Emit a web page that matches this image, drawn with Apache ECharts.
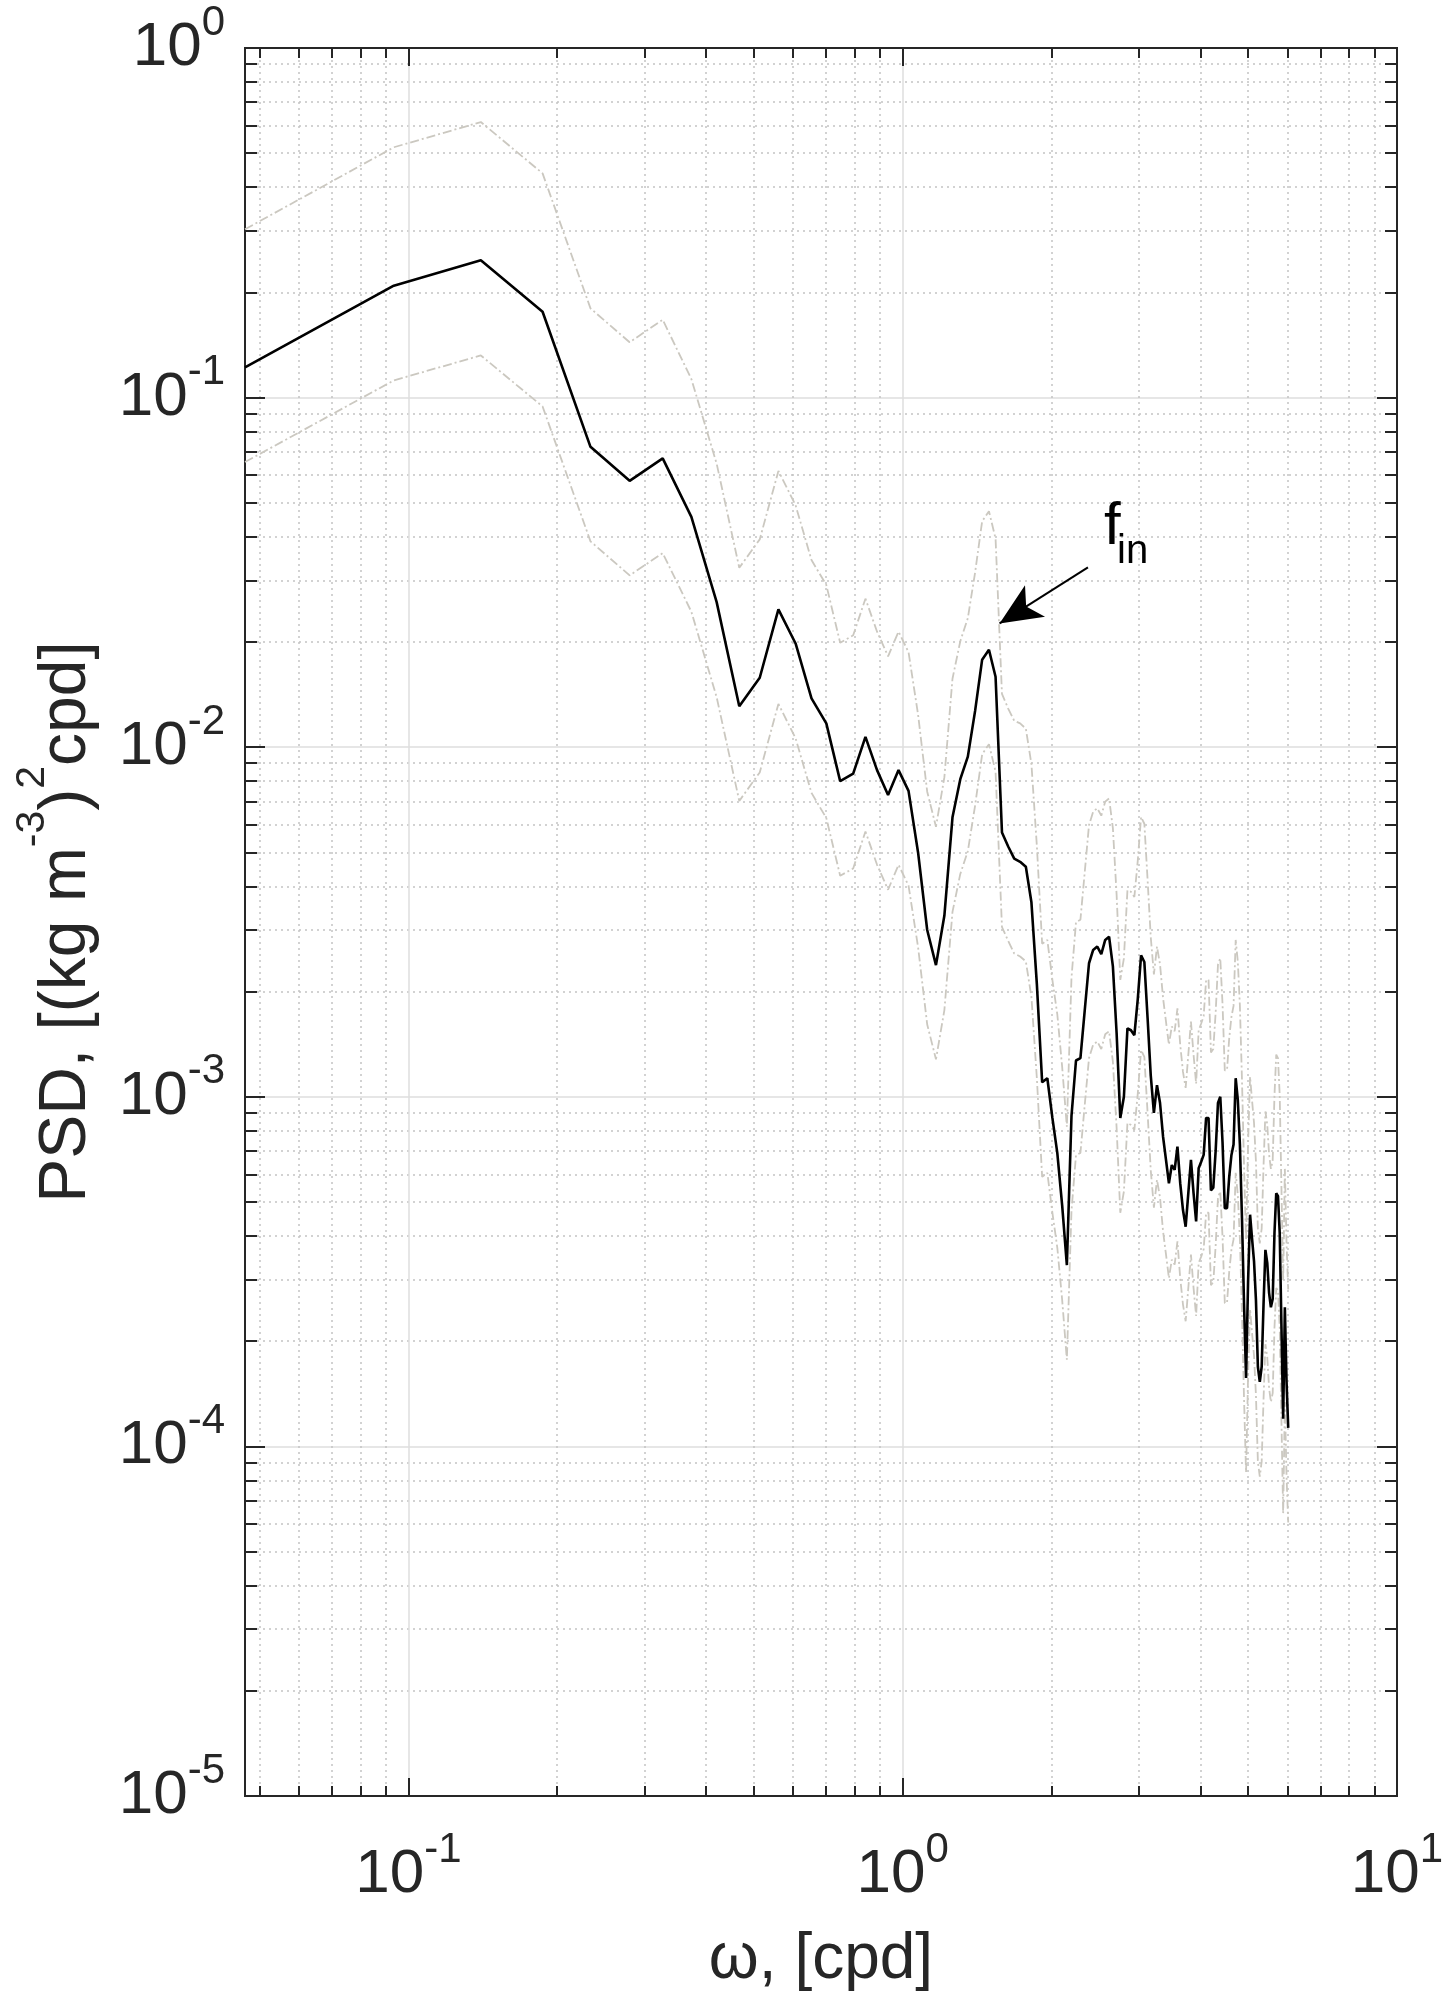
<!DOCTYPE html>
<html>
<head>
<meta charset="utf-8">
<script src="https://cdn.jsdelivr.net/npm/echarts@6/dist/echarts.min.js"></script>
<style>
  html, body { margin: 0; padding: 0; background: #fff; }
  #chart { width: 1456px; height: 2013px; }
</style>
</head>
<body>
<div id="chart"></div>
<script>
// frequency resolution of the spectrum (cpd); bin k sits at k * df
const df = 0.0467;

// PSD estimate, one value per frequency bin
const psd = [
  0.122, 0.209, 0.247, 0.176, 0.0723, 0.0578, 0.067, 0.0456, 0.026, 0.0131,
  0.0158, 0.0248, 0.0198, 0.0138, 0.0117, 0.008, 0.0084, 0.0107, 0.0086, 0.0073,
  0.0086, 0.0075, 0.005, 0.003, 0.00238, 0.0033, 0.0063, 0.0081, 0.0094, 0.0127,
  0.0178, 0.019, 0.0159, 0.0057, 0.0052, 0.0048, 0.0047, 0.00455, 0.0036, 0.0021,
  0.0011, 0.00113, 0.00087, 0.00069, 0.00049, 0.00033, 0.00088, 0.00127, 0.00129, 0.00177,
  0.00241, 0.00263, 0.00269, 0.00256, 0.00281, 0.00287, 0.00236, 0.00152, 0.00087, 0.001,
  0.00157, 0.00155, 0.0015, 0.0019, 0.00254, 0.00243, 0.00168, 0.00115, 0.0009, 0.00108,
  0.00096, 0.00077, 0.00066, 0.000566, 0.000638, 0.000618, 0.00072, 0.000566, 0.000475, 0.000425,
  0.00053, 0.00066, 0.00053, 0.00044, 0.000625, 0.000652, 0.000682, 0.00087, 0.00087, 0.00054,
  0.00055, 0.0007, 0.00096, 0.001, 0.00074, 0.00048, 0.00048, 0.00059, 0.00068, 0.00073,
  0.00113, 0.00098, 0.00073, 0.00045, 0.000256, 0.000157, 0.000296, 0.00046, 0.000393, 0.000339,
  0.000262, 0.000169, 0.000153, 0.000169, 0.000256, 0.000365, 0.000335, 0.000275, 0.00025, 0.000264,
  0.000407, 0.00053, 0.00052, 0.000407, 0.00022, 0.00012, 0.00025, 0.000153, 0.000113
];

// upper 95% confidence limit
const psdUpper = [
  0.303, 0.520, 0.614, 0.438, 0.180, 0.144, 0.167, 0.113, 0.0647, 0.0326,
  0.0393, 0.0617, 0.0492, 0.0343, 0.0291, 0.0199, 0.0209, 0.0266, 0.0214, 0.0182,
  0.0214, 0.0187, 0.0124, 0.00746, 0.00592, 0.00821, 0.0157, 0.0201, 0.0234, 0.0316,
  0.0443, 0.0473, 0.0395, 0.0142, 0.0129, 0.0119, 0.0117, 0.0113, 0.00895, 0.00522,
  0.00274, 0.00281, 0.00216, 0.00172, 0.00122, 0.000821, 0.00219, 0.00316, 0.00321, 0.00440,
  0.00599, 0.00654, 0.00669, 0.00637, 0.00699, 0.00714, 0.00587, 0.00378, 0.00216, 0.00249,
  0.00390, 0.00386, 0.00373, 0.00473, 0.00632, 0.00604, 0.00418, 0.00286, 0.00224, 0.00269,
  0.00239, 0.00192, 0.00164, 0.00141, 0.00159, 0.00154, 0.00179, 0.00141, 0.00118, 0.00106,
  0.00132, 0.00164, 0.00132, 0.00109, 0.00155, 0.00162, 0.00170, 0.00216, 0.00216, 0.00134,
  0.00137, 0.00174, 0.00239, 0.00249, 0.00184, 0.00119, 0.00119, 0.00147, 0.00169, 0.00182,
  0.00281, 0.00244, 0.00182, 0.00112, 0.000637, 0.000390, 0.000736, 0.00114, 0.000977, 0.000843,
  0.000652, 0.000420, 0.000381, 0.000420, 0.000637, 0.000908, 0.000833, 0.000684, 0.000622, 0.000657,
  0.00101, 0.00132, 0.00129, 0.00101, 0.000547, 0.000298, 0.000622, 0.000381, 0.000281
];

// lower 95% confidence limit
const psdLower = [
  0.0654, 0.112, 0.132, 0.0943, 0.0388, 0.0310, 0.0359, 0.0244, 0.0139, 0.00702,
  0.00847, 0.0133, 0.0106, 0.00740, 0.00627, 0.00429, 0.00450, 0.00574, 0.00461, 0.00391,
  0.00461, 0.00402, 0.00268, 0.00161, 0.00128, 0.00177, 0.00338, 0.00434, 0.00504, 0.00681,
  0.00954, 0.0102, 0.00852, 0.00306, 0.00279, 0.00257, 0.00252, 0.00244, 0.00193, 0.00113,
  0.000590, 0.000606, 0.000466, 0.000370, 0.000263, 0.000177, 0.000472, 0.000681, 0.000691, 0.000949,
  0.00129, 0.00141, 0.00144, 0.00137, 0.00151, 0.00154, 0.00126, 0.000815, 0.000466, 0.000536,
  0.000842, 0.000831, 0.000804, 0.00102, 0.00136, 0.00130, 0.000900, 0.000616, 0.000482, 0.000579,
  0.000515, 0.000413, 0.000354, 0.000303, 0.000342, 0.000331, 0.000386, 0.000303, 0.000255, 0.000228,
  0.000284, 0.000354, 0.000284, 0.000236, 0.000335, 0.000349, 0.000366, 0.000466, 0.000466, 0.000289,
  0.000295, 0.000375, 0.000515, 0.000536, 0.000397, 0.000257, 0.000257, 0.000316, 0.000364, 0.000391,
  0.000606, 0.000525, 0.000391, 0.000241, 0.000137, 0.0000842, 0.000159, 0.000247, 0.000211, 0.000182,
  0.000140, 0.0000906, 0.0000820, 0.0000906, 0.000137, 0.000196, 0.000180, 0.000147, 0.000134, 0.000142,
  0.000218, 0.000284, 0.000279, 0.000218, 0.000118, 0.0000643, 0.000134, 0.0000820, 0.0000606
];

// axis ticks
const xMajorTicks = [0.1, 1, 10];
const xMinorTicks = [0.05, 0.06, 0.07, 0.08, 0.09, 0.2, 0.3, 0.4, 0.5, 0.6, 0.7, 0.8, 0.9,
  2, 3, 4, 5, 6, 7, 8, 9];
const yMajorTicks = [1e-5, 1e-4, 1e-3, 1e-2, 1e-1, 1];
const yMinorTicks = [];
[1e-5, 1e-4, 1e-3, 1e-2, 1e-1].forEach(function (d) {
  [2, 3, 4, 5, 6, 7, 8, 9].forEach(function (m) { yMinorTicks.push(+(d * m).toPrecision(3)); });
});

// f_in annotation arrow (tail, head) in data units
const arrowFrom = [2.37, 0.0327];
const arrowTo = [1.57, 0.0226];

const FONT = '"Liberation Sans", Arial, Helvetica, sans-serif';
const TXT = '#262626';

const freq = psd.map(function (_, i) { return (i + 1) * df; });
function pairs(vals) { return vals.map(function (v, i) { return [freq[i], v]; }); }

function powLabel(v) {
  const e = Math.round(Math.log10(v));
  return '{b|10}{e|' + e + '}';
}
const tickRich = {
  b: { fontSize: 62, fontFamily: FONT, color: TXT, lineHeight: 62, verticalAlign: 'bottom' },
  e: { fontSize: 42, fontFamily: FONT, color: TXT, lineHeight: 42, padding: [0, 0, 35, 0], verticalAlign: 'bottom' }
};

const axisLine = { show: true, lineStyle: { color: TXT, width: 2 } };
const majorGrid = { show: true, lineStyle: { color: '#dedede', width: 1.5, type: 'solid' } };
const minorGrid = { show: true, lineStyle: { color: '#c4c4c4', width: 1.5, type: [2, 4] } };

function xAxisDef(pos, ticks, len, withLabels, split) {
  return {
    type: 'log', position: pos, min: df, max: 10, logBase: 10,
    axisLine: axisLine,
    axisTick: { show: true, inside: true, length: len, customValues: ticks, lineStyle: { color: TXT, width: 2 } },
    axisLabel: withLabels
      ? { show: true, customValues: ticks, margin: 48, formatter: powLabel, rich: tickRich }
      : { show: false },
    splitLine: split || { show: false },
    minorTick: { show: false }
  };
}
function yAxisDef(pos, ticks, len, withLabels, split) {
  return {
    type: 'log', position: pos, min: 1e-5, max: 1, logBase: 10,
    axisLine: axisLine,
    axisTick: { show: true, inside: true, length: len, customValues: ticks, lineStyle: { color: TXT, width: 2 } },
    axisLabel: withLabels
      ? { show: true, customValues: ticks, margin: 20, formatter: powLabel, rich: tickRich }
      : { show: false },
    splitLine: split || { show: false },
    minorTick: { show: false }
  };
}

const xMain = xAxisDef('bottom', xMajorTicks, 18, true, majorGrid);
xMain.name = 'ω, [cpd]';
xMain.nameLocation = 'middle';
xMain.nameGap = 132;
xMain.nameTextStyle = { fontSize: 64, fontFamily: FONT, color: TXT };

const yMain = yAxisDef('left', yMajorTicks, 20, true, majorGrid);
yMain.name = '{t|PSD, [(kg m}{s|-3}{t|)}{s|2}{t|cpd]}';
yMain.nameLocation = 'middle';
yMain.nameGap = 145;
yMain.nameRotate = 90;
yMain.nameTextStyle = {
  rich: {
    t: { fontSize: 66, fontFamily: FONT, color: TXT, lineHeight: 66, verticalAlign: 'bottom' },
    s: { fontSize: 41, fontFamily: FONT, color: TXT, lineHeight: 41, padding: [0, 0, 47, 0], verticalAlign: 'bottom' }
  }
};

const ciStyle = { color: '#cbc8c0', width: 1.8, type: [9, 3, 2, 3] };

const option = {
  animation: false,
  backgroundColor: '#fff',
  grid: { left: 245, right: 59, top: 48, bottom: 217, outerBoundsMode: 'none' },
  xAxis: [
    xMain,
    xAxisDef('bottom', xMinorTicks, 10, false, minorGrid),
    xAxisDef('top', xMajorTicks, 18, false),
    xAxisDef('top', xMinorTicks, 10, false)
  ],
  yAxis: [
    yMain,
    yAxisDef('left', yMinorTicks, 12, false, minorGrid),
    yAxisDef('right', yMajorTicks, 20, false),
    yAxisDef('right', yMinorTicks, 12, false)
  ],
  series: [
    { type: 'line', name: 'upper', data: pairs(psdUpper), showSymbol: false, symbol: 'none',
      lineStyle: ciStyle, z: 3 },
    { type: 'line', name: 'lower', data: pairs(psdLower), showSymbol: false, symbol: 'none',
      lineStyle: ciStyle, z: 3 },
    { type: 'line', name: 'psd', data: pairs(psd), showSymbol: false, symbol: 'none',
      lineStyle: { color: '#000', width: 2.6 }, z: 4,
      markLine: {
        silent: true, animation: false,
        symbol: ['none', 'arrow'], symbolSize: [28, 42],
        lineStyle: { color: '#000', width: 2, type: 'solid' },
        label: { show: false },
        data: [[{ coord: arrowFrom }, { coord: arrowTo }]]
      }
    }
  ],
  graphic: [
    { type: 'text', left: 1104, top: 497, z: 10,
      style: { text: 'f', fontSize: 60, fontFamily: FONT, fill: '#000' } },
    { type: 'text', left: 1117, top: 532, z: 10,
      style: { text: 'in', fontSize: 40, fontFamily: FONT, fill: '#000' } }
  ]
};

const chart = echarts.init(document.getElementById('chart'), null, { renderer: 'canvas' });
chart.setOption(option);
</script>
</body>
</html>
